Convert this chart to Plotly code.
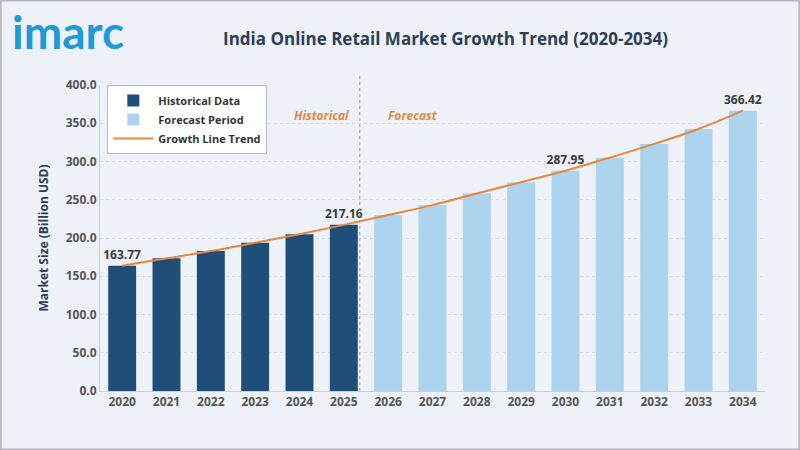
import plotly.graph_objects as go

# data
years = [str(y) for y in range(2020, 2035)]
hist_years = years[:6]
hist_values = [163.77, 173.4, 183.0, 193.8, 205.0, 217.16]
fc_years = years[6:]
fc_values = [230.0, 243.0, 258.2, 273.0, 287.95, 305.0, 323.0, 342.5, 366.42]
labelled = {"2020": "163.77", "2025": "217.16", "2030": "287.95", "2034": "366.42"}
y_ticks = [0, 50, 100, 150, 200, 250, 300, 350, 400]

FONT = "Open Sans"
NAVY = "#2b3f5c"
BG = "#eef2f8"
HIST_COLOR = "#1f4e79"
FC_COLOR = "#acd4ef"
LINE_COLOR = "#e5873c"
LABEL_FONT = dict(family=FONT, size=12, color="#3a3a3a", weight="bold")

fig = go.Figure()

fig.add_trace(go.Bar(
    x=hist_years, y=hist_values, name="Historical Data",
    marker=dict(color=HIST_COLOR, line=dict(width=0)),
    text=[labelled.get(y, "") for y in hist_years],
    textposition="outside", cliponaxis=False, constraintext="none",
    textfont=LABEL_FONT,
))
fig.add_trace(go.Bar(
    x=fc_years, y=fc_values, name="Forecast Period",
    marker=dict(color=FC_COLOR, line=dict(width=0)),
    text=[labelled.get(y, "") for y in fc_years],
    textposition="outside", cliponaxis=False, constraintext="none",
    textfont=LABEL_FONT,
))
fig.add_trace(go.Scatter(
    x=years, y=hist_values + fc_values, name="Growth Line Trend",
    mode="lines", line=dict(color=LINE_COLOR, width=2, shape="spline"),
))

# margins in px so the paper border can be placed
L, R, T, B = 100, 35, 85, 59
W, H = 800, 450
pw, ph = W - L - R, H - T - B

fig.add_shape(type="line", xref="x", yref="paper", x0=5.36, x1=5.36, y0=0, y1=1.04,
              line=dict(color="#9aa3ae", width=1, dash="dot"))
fig.add_shape(type="rect", xref="paper", yref="paper",
              x0=-L / pw + 0.001, x1=1 + R / pw - 0.001,
              y0=-B / ph + 0.002, y1=1 + T / ph - 0.002,
              line=dict(color="#b5b8bd", width=2))

fig.add_annotation(x=4.5, y=0.935, xref="x", yref="paper", text="<i>Historical</i>",
                   showarrow=False, font=dict(family=FONT, size=12, color="#e08a45", weight="bold"))
fig.add_annotation(x=6.56, y=0.935, xref="x", yref="paper", text="<i>Forecast</i>",
                   showarrow=False, font=dict(family=FONT, size=12, color="#e08a45", weight="bold"))

# logo and title
fig.add_annotation(x=(10 - L) / pw, y=1 + (T - 32) / ph, xref="paper", yref="paper",
                   xanchor="left", yanchor="middle", text="imarc", showarrow=False,
                   font=dict(family="Lato", size=46, color="#1f9ad8", weight="bold"))
fig.add_annotation(x=(445 - L) / pw, y=1 + (T - 38) / ph, xref="paper", yref="paper",
                   xanchor="center", yanchor="middle", showarrow=False,
                   text="<b>India Online Retail Market Growth Trend (2020-2034)</b>",
                   font=dict(family=FONT, size=17, color=NAVY))

fig.update_layout(
    width=W, height=H,
    margin=dict(l=L, r=R, t=T, b=B),
    paper_bgcolor=BG, plot_bgcolor=BG,
    barmode="overlay", bargap=0.37,
    font=dict(family=FONT, color="#555"),
    showlegend=True,
    legend=dict(x=0.011, y=1.0, xanchor="left", yanchor="top",
                bgcolor="white", bordercolor="#b8bcc2", borderwidth=1,
                font=dict(family=FONT, size=11, color="#333", weight="bold"),
                tracegroupgap=4, itemwidth=40),
    xaxis=dict(type="category", categoryorder="array", categoryarray=years,
               range=[-0.5, 14.5], showgrid=False, showline=True, linecolor="#c9ced6",
               ticks="", tickfont=dict(family=FONT, size=12, color="#555", weight="bold")),
    yaxis=dict(range=[0, 400], tickvals=y_ticks, tickformat=".1f",
               showgrid=True, gridcolor="#d6dbe2", griddash="dot",
               showline=True, linecolor="#c9ced6", zeroline=False, ticks="",
               tickfont=dict(family=FONT, size=12, color="#555", weight="bold"),
               title=dict(text="<b>Market Size (Billion USD)</b>", standoff=14,
                          font=dict(family=FONT, size=12, color=NAVY))),
)

# drop the browser's default page margin so the figure sits at the window corner
fig.write_html("out.html", config={"displayModeBar": False},
               post_script="document.body.style.margin='0';document.body.style.background='#eef2f8';")
